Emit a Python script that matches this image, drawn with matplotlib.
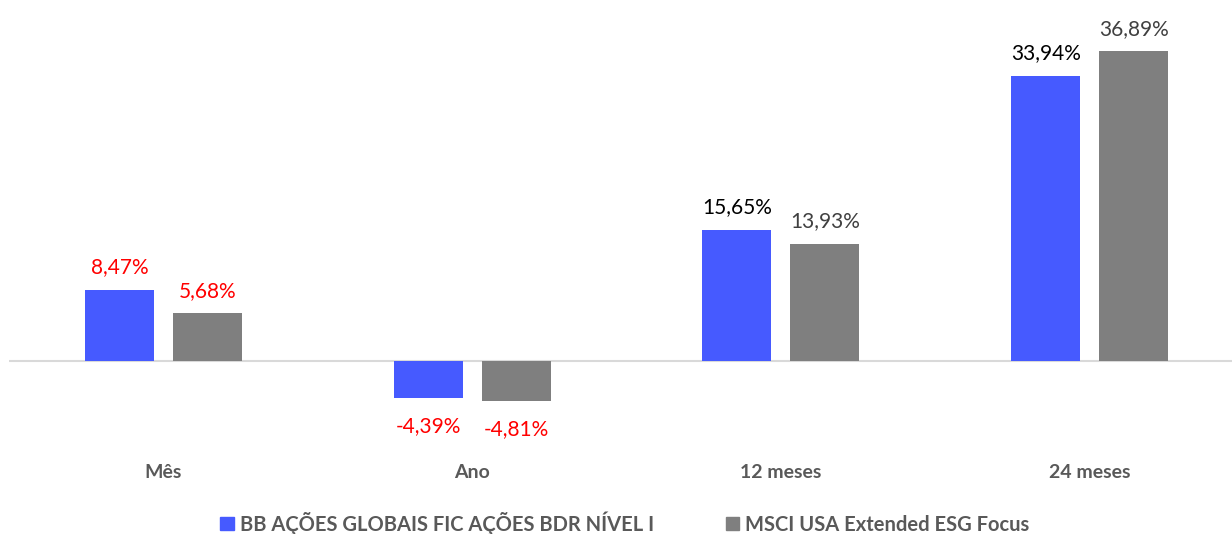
import matplotlib.pyplot as plt
import numpy as np
from matplotlib.patches import Patch

plt.rcParams.update({
    "font.family": ["Lato", "DejaVu Sans"],
    "font.size": 14,
})

# ---------------------------------------------------------------------------
# Data
# ---------------------------------------------------------------------------
categories = ["Mês", "Ano", "12 meses", "24 meses"]
fund_name = "BB AÇÕES GLOBAIS FIC AÇÕES BDR NÍVEL I"
bench_name = "MSCI USA Extended ESG Focus"
fund_values = [8.47, -4.39, 15.65, 33.94]
bench_values = [5.68, -4.81, 13.93, 36.89]
fund_label_colors = ["#FF0000", "#FF0000", "#000000", "#000000"]
bench_label_colors = ["#FF0000", "#FF0000", "#404040", "#404040"]

BLUE = "#465AFF"
GRAY = "#7F7F7F"
TEXT_GRAY = "#595959"

# ---------------------------------------------------------------------------
# Figure
# ---------------------------------------------------------------------------
fig = plt.figure(figsize=(12.32, 5.34), dpi=100, facecolor="white")
ax = fig.add_axes([9 / 1232, 1 - 440 / 534, 1235 / 1232, 440 / 534])

x = np.arange(len(categories))
w = 0.2235
off = 0.1425

bars_f = ax.bar(x - off, fund_values, width=w, color=BLUE, zorder=3)
bars_b = ax.bar(x + off, bench_values, width=w, color=GRAY, zorder=3)

ax.axhline(0, color="#D9D9D9", linewidth=1.5, zorder=2)

for bars, vals, cols in [(bars_f, fund_values, fund_label_colors),
                         (bars_b, bench_values, bench_label_colors)]:
    for b, v, c in zip(bars, vals, cols):
        ax.annotate(
            f"{v:.2f}%".replace(".", ","),
            (b.get_x() + b.get_width() / 2, v),
            xytext=(0, 9 if v >= 0 else -13),
            textcoords="offset points",
            ha="center",
            va="bottom" if v >= 0 else "top",
            color=c,
            fontsize=15,
        )

ax.set_xlim(-0.5, 3.5)
ax.set_ylim(-9.41, 43.0)
ax.set_xticks(x)
ax.set_xticklabels(categories, fontweight="bold", color=TEXT_GRAY, fontsize=14)
ax.tick_params(axis="x", length=0, pad=17)
ax.set_yticks([])
for s in ax.spines.values():
    s.set_visible(False)
ax.patch.set_alpha(0)

handles = [Patch(color=BLUE), Patch(color=GRAY)]
leg = fig.legend(
    handles, [fund_name, bench_name],
    loc="center", bbox_to_anchor=(625 / 1232, 1 - 523 / 534),
    ncol=2, frameon=False,
    handlelength=0.65, handleheight=0.65, handletextpad=0.3,
    columnspacing=3.6,
    prop={"weight": "bold", "size": 14.5},
)
for t in leg.get_texts():
    t.set_color(TEXT_GRAY)

fig.savefig("out.png", dpi=100, facecolor="white")
